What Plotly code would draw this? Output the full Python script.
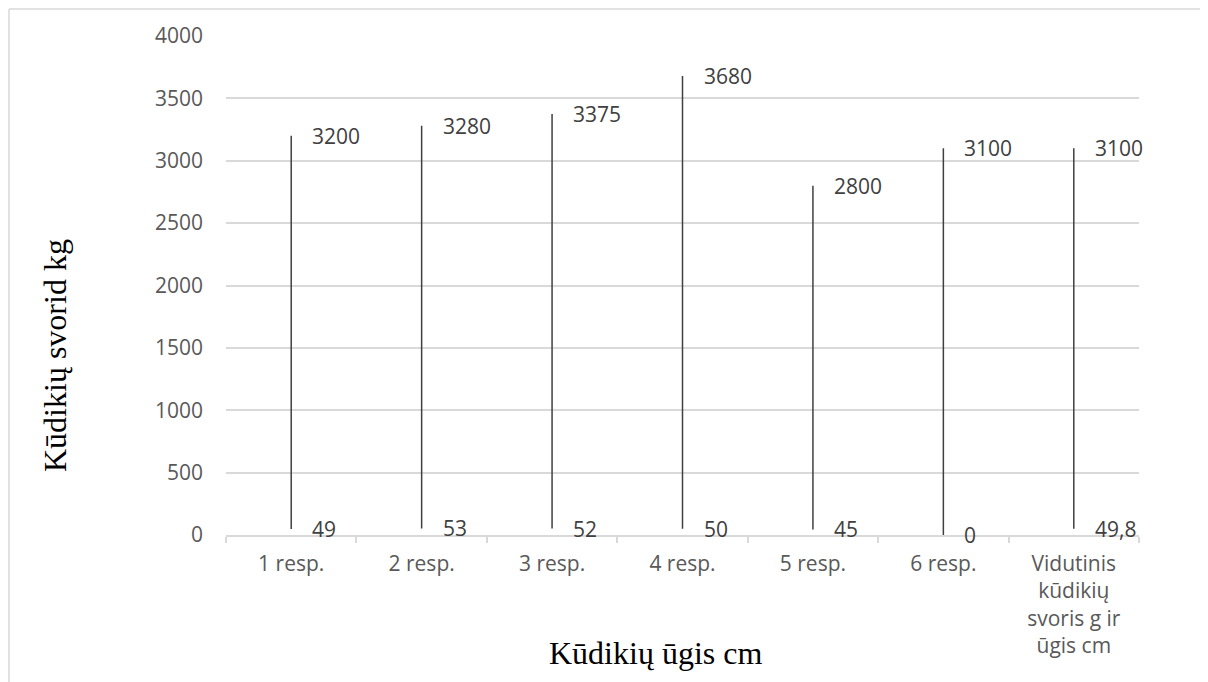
import plotly.graph_objects as go

categories = ["1 resp.", "2 resp.", "3 resp.", "4 resp.", "5 resp.", "6 resp.",
              "Vidutinis<br>kūdikių<br>svoris g ir<br>ūgis cm"]
weight_g = [3200, 3280, 3375, 3680, 2800, 3100, 3100]
height_cm = [49, 53, 52, 50, 45, 0, 49.8]
y_ticks = [0, 500, 1000, 1500, 2000, 2500, 3000, 3500, 4000]


def fmt(v):
    s = f"{v:g}"
    return s.replace(".", ",")


# high-low segments
xs, ys = [], []
for c, lo, hi in zip(categories, height_cm, weight_g):
    xs += [c, c, None]
    ys += [lo, hi, None]

fig = go.Figure()
fig.add_trace(go.Scatter(x=xs, y=ys, mode="lines",
                         line=dict(color="#404040", width=1.5),
                         connectgaps=False, showlegend=False, hoverinfo="skip"))

label_font = dict(family="Open Sans", size=21, color="#404040")
for c, lo, hi in zip(categories, height_cm, weight_g):
    for v in (hi, lo):
        fig.add_annotation(x=c, y=v, text=fmt(v), showarrow=False,
                           xanchor="left", yanchor="middle", xshift=19,
                           font=label_font)

# page has an 8px body margin; figure origin sits at screen (8, 8)
OFF = 8
W, H = 1200, 674
L, R = 226 - OFF, (W + OFF) - 1139
T, B = 36 - OFF, (H + OFF) - 535
pw, ph = W - L - R, H - T - B


def px_x(p):
    return (p - OFF - L) / pw


def px_y(p):
    return (H + OFF - B - p) / ph


fig.add_annotation(xref="paper", yref="paper", x=px_x(655), y=px_y(653),
                   text="Kūdikių ūgis cm", showarrow=False,
                   xanchor="center", yanchor="middle",
                   font=dict(family="Liberation Serif", size=32, color="#000000"))
fig.add_annotation(xref="paper", yref="paper", x=px_x(55), y=px_y(356),
                   text="Kūdikių svorid kg", showarrow=False, textangle=-90,
                   xanchor="center", yanchor="middle",
                   font=dict(family="Liberation Serif", size=32, color="#000000"))

# chart-area border (top and left visible)
fig.add_shape(type="line", xref="paper", yref="paper",
              x0=px_x(9), y0=px_y(9), x1=px_x(1210), y1=px_y(9),
              line=dict(color="#d9d9d9", width=1.5), layer="below")
fig.add_shape(type="line", xref="paper", yref="paper",
              x0=px_x(9), y0=px_y(9), x1=px_x(9), y1=px_y(690),
              line=dict(color="#d9d9d9", width=1.5), layer="below")

tick_font = dict(family="Open Sans", size=21, color="#595959")
fig.update_layout(
    width=W, height=H,
    margin=dict(l=L, r=R, t=T, b=B, autoexpand=False),
    paper_bgcolor="white", plot_bgcolor="white",
    showlegend=False,
    xaxis=dict(type="category", categoryorder="array", categoryarray=categories,
               range=[-0.5, len(categories) - 0.5],
               showgrid=False, showline=True, linecolor="#d9d9d9", linewidth=1.5,
               ticks="outside", tickson="boundaries", ticklen=6,
               tickcolor="#d9d9d9", tickwidth=1.5,
               tickfont=tick_font, ticklabelstandoff=9, zeroline=False),
    yaxis=dict(range=[0, 4000], tickvals=y_ticks, showgrid=True,
               gridcolor="#d9d9d9", gridwidth=1.5, zeroline=False,
               showline=False, ticks="", tickfont=tick_font,
               ticklabelstandoff=22),
)

fig.write_html("out.html")
